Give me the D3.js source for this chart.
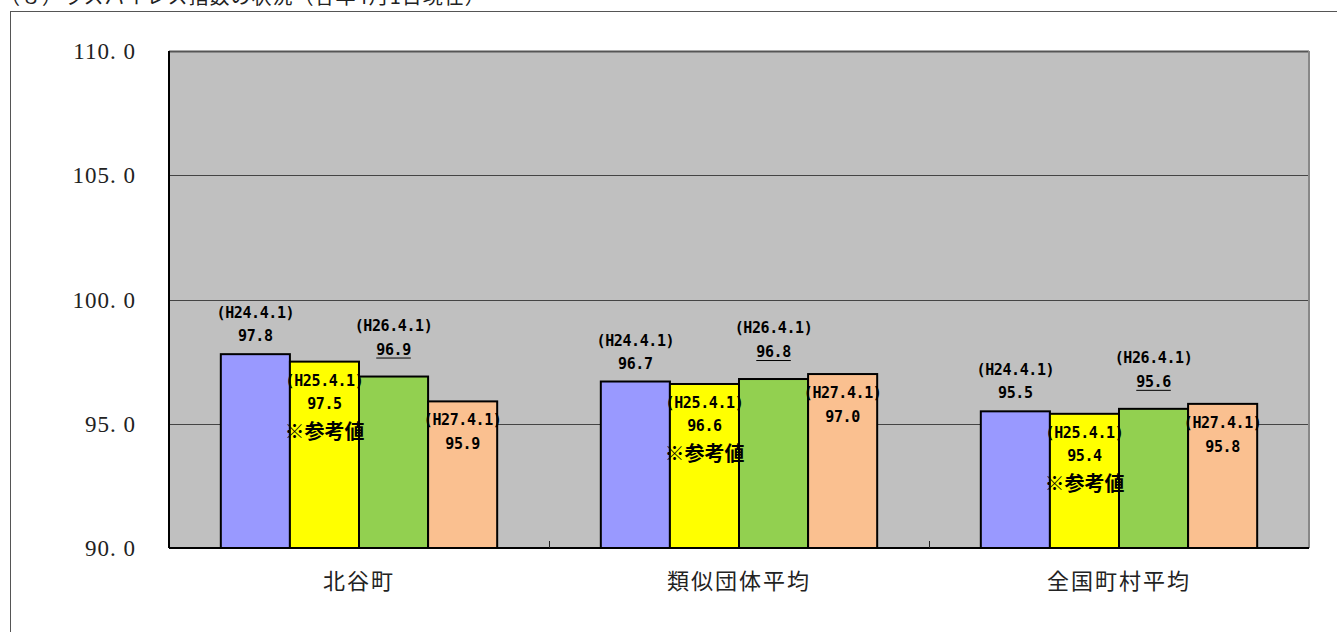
<!DOCTYPE html>
<html lang="ja">
<head>
<meta charset="UTF-8">
<title>ラスパイレス指数の状況</title>
<script src="https://d3js.org/d3.v7.min.js"></script>
<style>
  body { margin: 0; background: #fff; }
  svg { display: block; }
</style>
</head>
<body>
<script>
  // chart data
  const categories = ["北谷町", "類似団体平均", "全国町村平均"];
  const seriesDates = ["(H24.4.1)", "(H25.4.1)", "(H26.4.1)", "(H27.4.1)"];
  const h24 = [97.8, 96.7, 95.5];
  const h25 = [97.5, 96.6, 95.4];
  const h26 = [96.9, 96.8, 95.6];
  const h27 = [95.9, 97.0, 95.8];
  const yTicks = [90, 95, 100, 105, 110];
  const note = "※参考値";
  const title = "（８）ラスパイレス指数の状況（各年4月1日現在）";

  const colors = ["#9999ff", "#ffff00", "#92d050", "#fac090"];
  const seriesValues = [h24, h25, h26, h27];

  const width = 1337, height = 632;
  const plot = { left: 169, right: 1309, top: 51, bottom: 548 };

  const svg = d3.select("body").append("svg")
    .attr("width", width)
    .attr("height", height);

  // title, cut off by the top edge like in the source
  svg.append("text")
    .attr("x", 0)
    .attr("y", 4)
    .attr("font-family", "Noto Sans CJK JP")
    .attr("font-size", "20px")
    .attr("letter-spacing", "1px")
    .attr("fill", "#222")
    .text(title);

  // outer frame
  svg.append("rect")
    .attr("x", 10.5).attr("y", 11.5)
    .attr("width", width + 20).attr("height", height + 20)
    .attr("fill", "none")
    .attr("stroke", "#555")
    .attr("stroke-width", 1);

  const y = d3.scaleLinear().domain([90, 110]).range([plot.bottom, plot.top]);
  const x0 = d3.scaleBand().domain(categories).range([plot.left, plot.right]);
  const x1 = d3.scaleBand().domain(d3.range(4)).range([0, x0.bandwidth()]).paddingOuter(0.75);

  // plot background
  svg.append("rect")
    .attr("x", plot.left).attr("y", plot.top)
    .attr("width", plot.right - plot.left).attr("height", plot.bottom - plot.top)
    .attr("fill", "#c0c0c0");

  // gridlines
  svg.append("g")
    .selectAll("line")
    .data(yTicks.slice(1, -1))
    .enter().append("line")
    .attr("x1", plot.left).attr("x2", plot.right)
    .attr("y1", d => Math.round(y(d)) + 0.5)
    .attr("y2", d => Math.round(y(d)) + 0.5)
    .attr("stroke", "#444")
    .attr("stroke-width", 1);

  // plot border (top dark, right gray)
  svg.append("line")
    .attr("x1", plot.left).attr("x2", plot.right)
    .attr("y1", plot.top + 0.5).attr("y2", plot.top + 0.5)
    .attr("stroke", "#555").attr("stroke-width", 2);
  svg.append("line")
    .attr("x1", plot.right).attr("x2", plot.right)
    .attr("y1", plot.top).attr("y2", plot.bottom)
    .attr("stroke", "#888").attr("stroke-width", 2);

  // y axis labels
  const fmt = v => d3.format(".1f")(v).replace(".", ". ");
  svg.append("g")
    .selectAll("text")
    .data(yTicks)
    .enter().append("text")
    .attr("x", 136)
    .attr("y", d => y(d) + 8)
    .attr("text-anchor", "end")
    .attr("font-family", "Liberation Serif")
    .attr("font-size", "23px")
    .attr("letter-spacing", "1px")
    .attr("fill", "#222")
    .text(fmt);

  // bars
  const groups = svg.append("g")
    .selectAll("g")
    .data(categories)
    .enter().append("g")
    .attr("transform", d => `translate(${x0(d)},0)`);

  groups.selectAll("rect")
    .data((d, i) => seriesValues.map((s, k) => ({ k: k, v: s[i] })))
    .enter().append("rect")
    .attr("x", d => x1(d.k))
    .attr("y", d => y(d.v))
    .attr("width", x1.bandwidth())
    .attr("height", d => plot.bottom - y(d.v))
    .attr("fill", d => colors[d.k])
    .attr("stroke", "#000")
    .attr("stroke-width", 2);

  // axes lines
  svg.append("line")
    .attr("x1", plot.left).attr("x2", plot.left)
    .attr("y1", plot.top).attr("y2", plot.bottom)
    .attr("stroke", "#000").attr("stroke-width", 2);
  svg.append("line")
    .attr("x1", plot.left).attr("x2", plot.right)
    .attr("y1", plot.bottom).attr("y2", plot.bottom)
    .attr("stroke", "#000").attr("stroke-width", 2);

  // x ticks at category boundaries
  svg.append("g")
    .selectAll("line")
    .data(categories.slice(1))
    .enter().append("line")
    .attr("x1", d => x0(d) + 0.5).attr("x2", d => x0(d) + 0.5)
    .attr("y1", plot.bottom).attr("y2", plot.bottom - 7)
    .attr("stroke", "#222");

  // category labels
  svg.append("g")
    .selectAll("text")
    .data(categories)
    .enter().append("text")
    .attr("x", d => x0(d) + x0.bandwidth() / 2)
    .attr("y", 589)
    .attr("text-anchor", "middle")
    .attr("font-family", "Noto Sans CJK JP")
    .attr("font-size", "22px")
    .attr("letter-spacing", "2px")
    .attr("fill", "#222")
    .text(d => d);

  // data labels: offsets from bar top (date line, value line, note line)
  const labelOffsets = [
    { date: -41, value: -18 },
    { date: 19, value: 42, note: 70 },
    { date: -51, value: -27, underline: true },
    { date: 19, value: 43 }
  ];

  const labels = [];
  categories.forEach((c, i) => {
    seriesValues.forEach((s, k) => {
      labels.push({ c: c, k: k, v: s[i] });
    });
  });

  const lg = svg.append("g");
  labels.forEach(d => {
    const cx = x0(d.c) + x1(d.k) + x1.bandwidth() / 2;
    const top = y(d.v);
    const off = labelOffsets[d.k];
    lg.append("text")
      .attr("x", cx).attr("y", top + off.date + 5)
      .attr("text-anchor", "middle")
      .attr("font-family", "DejaVu Sans Mono")
      .attr("font-weight", "bold")
      .attr("font-size", "15px")
      .attr("letter-spacing", "-0.4px")
      .attr("fill", "#000")
      .text(seriesDates[d.k]);
    const vt = lg.append("text")
      .attr("x", cx).attr("y", top + off.value + 5)
      .attr("text-anchor", "middle")
      .attr("font-family", "DejaVu Sans Mono")
      .attr("font-weight", "bold")
      .attr("font-size", "15px")
      .attr("letter-spacing", "-0.4px")
      .attr("fill", "#000")
      .text(d3.format(".1f")(d.v));
    if (off.underline) {
      const w = vt.node().getComputedTextLength();
      lg.append("line")
        .attr("x1", cx - w / 2).attr("x2", cx + w / 2)
        .attr("y1", top + off.value + 8.5).attr("y2", top + off.value + 8.5)
        .attr("stroke", "#000").attr("stroke-width", 1);
    }
    if (off.note) {
      lg.append("text")
        .attr("x", cx).attr("y", top + off.note + 7)
        .attr("text-anchor", "middle")
        .attr("font-family", "Noto Sans CJK JP")
        .attr("font-weight", "bold")
        .attr("font-size", "20px")
        .attr("fill", "#000")
        .text(note);
    }
  });
</script>
</body>
</html>
